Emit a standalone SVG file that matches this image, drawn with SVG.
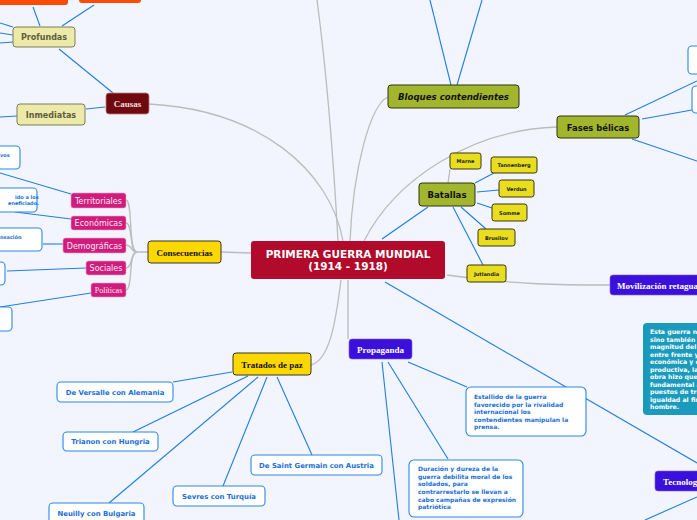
<svg xmlns="http://www.w3.org/2000/svg" width="697" height="520" viewBox="0 0 697 520">
<defs>
<style>
.g{fill:none;stroke:#bcbcbc;stroke-width:1.3}
.b{fill:none;stroke:#1f7de6;stroke-width:1.1}
.sans{font-family:"DejaVu Sans",Verdana,sans-serif}
.serif{font-family:"Liberation Serif","Times New Roman",serif;font-weight:bold}
.wb{fill:#fff;stroke:#2a88e8;stroke-width:1.1}
.wt{font-family:"DejaVu Sans",Verdana,sans-serif;font-weight:bold;fill:#1b6fd6}
.kh{fill:#ede9a9;stroke:#7e7c5c;stroke-width:1}
.kt{font-family:"DejaVu Sans",Verdana,sans-serif;font-weight:bold;font-size:8px;fill:#5e5e3e}
.ol{fill:#a2b62d;stroke:#2e3310;stroke-width:1}
.ye{fill:#e8dd1f;stroke:#3a3510;stroke-width:1}
.gold{fill:#ffd800;stroke:#333;stroke-width:1}
.pk{fill:#d01c7c;stroke:#f0a0c8;stroke-width:0.6}
.pt{font-family:"DejaVu Sans",Verdana,sans-serif;font-size:8px;fill:#fbe8f2}
.pu{fill:#3b10dc;stroke:#7a60f0;stroke-width:0.6}
.or{fill:#fc4b05}
</style>
</defs>
<rect width="697" height="520" fill="#f2f5fd"/>
<g id="connectors">
<!-- grey main-topic connectors -->
<path class="g" d="M149,104 C260,110 330,170 343,241"/>
<path class="g" d="M317,0 C325,60 333,150 338,241"/>
<path class="g" d="M388,97 C370,105 353,170 350,241"/>
<path class="g" d="M557,127 C470,130 395,180 364,241"/>
<path class="g" d="M448,183 L450,169"/>
<path class="g" d="M447,275 C520,285 560,285 610,285"/>
<path class="g" d="M221,252 L251,253"/>
<path class="g" d="M311,365 C330,360 336,320 341,280"/>
<path class="g" d="M348,280 L348,339"/>
<path class="g" d="M148,252 L137,252 C128,252 133,200 126,200"/>
<path class="g" d="M137,252 C129,252 133,223 126,223"/>
<path class="g" d="M137,252 C131,252 132,245 126,245"/>
<path class="g" d="M137,252 C130,252 133,268 126,268"/>
<path class="g" d="M137,252 C128,252 133,290 126,290"/>
<!-- blue connectors -->
<path class="b" d="M59,49 L113,93"/>
<path class="b" d="M86,109 L105,107"/>
<path class="b" d="M0,117 L17,116"/>
<path class="b" d="M0,23 L13,27"/>
<path class="b" d="M0,33 L13,35"/>
<path class="b" d="M0,43 L13,42"/>
<path class="b" d="M33,7 L40,26"/>
<path class="b" d="M94,5 L62,26"/>
<path class="b" d="M430,0 L451,85"/>
<path class="b" d="M482,0 L457,85"/>
<path class="b" d="M625,115 L697,81"/>
<path class="b" d="M642,119 L692,110"/>
<path class="b" d="M632,139 L697,161"/>
<path class="b" d="M428,207 L382,239"/>
<path class="b" d="M475,183 L494,173"/>
<path class="b" d="M477,192 L499,190"/>
<path class="b" d="M477,203 L492,208"/>
<path class="b" d="M461,207 L486,229"/>
<path class="b" d="M453,207 L483,265"/>
<path class="b" d="M385,282 L697,463"/>
<path class="b" d="M645,520 L697,497"/>
<path class="b" d="M0,173 L71,194"/>
<path class="b" d="M15,212 L71,219"/>
<path class="b" d="M43,244 L63,244"/>
<path class="b" d="M7,271 L86,268"/>
<path class="b" d="M0,307 L91,293"/>
<path class="b" d="M232,372 L173,382"/>
<path class="b" d="M248,376 L133,432"/>
<path class="b" d="M258,377 L109,503"/>
<path class="b" d="M267,377 L223,486"/>
<path class="b" d="M277,377 L312,455"/>
<path class="b" d="M408,362 L467,387"/>
<path class="b" d="M388,362 L448,459"/>
<path class="b" d="M382,362 L399,520"/>
</g>

<g id="central">
<rect x="251" y="241" width="194" height="38" rx="3" fill="#b10a2b"/>
<text class="sans" x="348" y="258" text-anchor="middle" font-size="10.5" font-weight="bold" fill="#fff">PRIMERA GUERRA MUNDIAL</text>
<text class="sans" x="348" y="270" text-anchor="middle" font-size="10.5" font-weight="bold" fill="#fff">(1914 - 1918)</text>
</g>

<g id="top-orange">
<rect class="or" x="-5" y="-20" width="73" height="25" rx="3"/>
<rect class="or" x="79" y="-20" width="62" height="23" rx="3"/>
</g>

<g id="causas">
<rect x="106" y="93" width="43" height="21" rx="3" fill="#6e0a0e" stroke="#c27a7a" stroke-width="0.8"/>
<text class="serif" x="127.5" y="107" text-anchor="middle" font-size="9" fill="#f4dede">Causas</text>
</g>
<g id="profundas">
<rect class="kh" x="13" y="27" width="62" height="20" rx="3"/>
<text class="kt" x="44" y="40" text-anchor="middle">Profundas</text>
</g>
<g id="inmediatas">
<rect class="kh" x="17" y="104" width="68" height="21" rx="3"/>
<text class="kt" x="51" y="117.5" text-anchor="middle">Inmediatas</text>
</g>

<g id="bloques">
<rect class="ol" x="388" y="85" width="131" height="23" rx="3"/>
<text class="sans" x="453.5" y="100" text-anchor="middle" font-size="8.6" font-weight="bold" font-style="italic" fill="#111">Bloques contendientes</text>
</g>
<g id="fases">
<rect class="ol" x="557" y="116" width="82" height="22" rx="3"/>
<text class="sans" x="598" y="130.5" text-anchor="middle" font-size="8.4" font-weight="bold" fill="#111">Fases bélicas</text>
</g>
<g id="fases-child-1"><rect class="wb" x="688" y="46" width="40" height="28" rx="4"/></g>
<g id="fases-child-2"><rect class="wb" x="692" y="86" width="40" height="27" rx="4"/></g>

<g id="batallas">
<rect class="ol" x="419" y="183" width="56" height="23" rx="3"/>
<text class="sans" x="447" y="197.5" text-anchor="middle" font-size="8.6" font-weight="bold" fill="#111">Batallas</text>
</g>
<g id="marne"><rect class="ye" x="450" y="153" width="31" height="16" rx="2.5"/><text class="sans" x="465.5" y="163" text-anchor="middle" font-size="5" font-weight="bold" fill="#222">Marne</text></g>
<g id="tannenberg"><rect class="ye" x="491" y="157" width="46" height="16" rx="2.5"/><text class="sans" x="514" y="167" text-anchor="middle" font-size="5" font-weight="bold" fill="#222">Tannenberg</text></g>
<g id="verdun"><rect class="ye" x="499" y="180" width="35" height="17" rx="2.5"/><text class="sans" x="516.5" y="190.5" text-anchor="middle" font-size="5" font-weight="bold" fill="#222">Verdun</text></g>
<g id="somme"><rect class="ye" x="492" y="204" width="35" height="17" rx="2.5"/><text class="sans" x="509.5" y="214.5" text-anchor="middle" font-size="5" font-weight="bold" fill="#222">Somme</text></g>
<g id="brusilov"><rect class="ye" x="478" y="229" width="37" height="17" rx="2.5"/><text class="sans" x="496.5" y="239.5" text-anchor="middle" font-size="5" font-weight="bold" fill="#222">Brusilov</text></g>
<g id="jutlandia"><rect class="ye" x="467" y="265" width="39" height="17" rx="2.5"/><text class="sans" x="486.5" y="275.5" text-anchor="middle" font-size="5" font-weight="bold" fill="#222">Jutlandia</text></g>

<g id="movilizacion">
<rect class="pu" x="610" y="275" width="120" height="20" rx="3"/>
<text class="serif" x="617" y="288.5" font-size="9" fill="#fff">Movilización retaguardia</text>
</g>
<g id="movilizacion-texto">
<rect x="643" y="323" width="80" height="92" rx="4" fill="#1a9bbd"/>
<g class="sans" font-size="6.2" font-weight="bold" fill="#fff">
<text x="650" y="334">Esta guerra no</text>
<text x="650" y="341.5">sino también e</text>
<text x="650" y="349">magnitud del e</text>
<text x="650" y="356.5">entre frente y</text>
<text x="650" y="364">económica y c</text>
<text x="650" y="371.5">productiva, la</text>
<text x="650" y="379">obra hizo que</text>
<text x="650" y="386.5">fundamental a</text>
<text x="650" y="394">puestos de tra</text>
<text x="650" y="401.5">igualdad al fin</text>
<text x="650" y="409">hombre.</text>
</g>
</g>
<g id="tecnologia">
<rect class="pu" x="655" y="471" width="60" height="20" rx="3"/>
<text class="serif" x="663" y="484.5" font-size="9" fill="#fff">Tecnología</text>
</g>

<g id="consecuencias">
<rect class="gold" x="148" y="241" width="73" height="22" rx="3"/>
<text class="serif" x="184.5" y="255.5" text-anchor="middle" font-size="9" fill="#111">Consecuencias</text>
</g>
<g id="territoriales"><rect class="pk" x="71" y="193" width="55" height="15" rx="2.5"/><text class="pt" x="98.5" y="203.5" text-anchor="middle">Territoriales</text></g>
<g id="economicas"><rect class="pk" x="71" y="216" width="55" height="14" rx="2.5"/><text class="pt" x="98.5" y="226" text-anchor="middle">Económicas</text></g>
<g id="demograficas"><rect class="pk" x="63" y="238" width="63" height="15" rx="2.5"/><text class="pt" x="94.5" y="248.5" text-anchor="middle">Demográficas</text></g>
<g id="sociales"><rect class="pk" x="86" y="261" width="40" height="14" rx="2.5"/><text class="pt" x="106" y="271" text-anchor="middle">Sociales</text></g>
<g id="politicas"><rect class="pk" x="91" y="283" width="35" height="14" rx="2.5"/><text x="108.5" y="293" text-anchor="middle" font-family="'Liberation Serif','Times New Roman',serif" font-size="8" fill="#fbe8f2">Políticas</text></g>

<g id="cons-child-1"><rect class="wb" x="-40" y="146" width="60" height="23" rx="4"/><text class="wt" x="0" y="157" font-size="5">vos</text></g>
<g id="cons-child-2"><rect class="wb" x="-40" y="188" width="77" height="24" rx="4"/><text class="wt" x="15" y="198.5" font-size="5">ido a los</text><text class="wt" x="8" y="204.5" font-size="5">eneficiado.</text></g>
<g id="cons-child-3"><rect class="wb" x="-40" y="228" width="82" height="23" rx="4"/><text class="wt" x="0" y="239" font-size="5">nsación</text></g>
<g id="cons-child-4"><rect class="wb" x="-40" y="262" width="45" height="23" rx="4"/></g>
<g id="cons-child-5"><rect class="wb" x="-40" y="307" width="52" height="24" rx="4"/></g>

<g id="tratados">
<rect class="gold" x="233" y="353" width="78" height="22" rx="3"/>
<text class="serif" x="272" y="367.5" text-anchor="middle" font-size="9" fill="#111">Tratados de paz</text>
</g>
<g id="versalle"><rect class="wb" x="57" y="382" width="116" height="20" rx="4"/><text class="wt" x="115" y="394.5" text-anchor="middle" font-size="6.9">De Versalle con Alemania</text></g>
<g id="trianon"><rect class="wb" x="63" y="432" width="95" height="19" rx="4"/><text class="wt" x="110.5" y="444" text-anchor="middle" font-size="6.9">Trianon con Hungria</text></g>
<g id="saint-germain"><rect class="wb" x="251" y="455" width="131" height="20" rx="4"/><text class="wt" x="316.5" y="467.5" text-anchor="middle" font-size="6.9">De Saint Germain con Austria</text></g>
<g id="sevres"><rect class="wb" x="173" y="486" width="92" height="20" rx="4"/><text class="wt" x="219" y="498.5" text-anchor="middle" font-size="6.9">Sevres con Turquía</text></g>
<g id="neuilly"><rect class="wb" x="49" y="503" width="95" height="24" rx="4"/><text class="wt" x="96.5" y="515.5" text-anchor="middle" font-size="6.9">Neuilly con Bulgaria</text></g>

<g id="propaganda">
<rect class="pu" x="349" y="339" width="63" height="20" rx="3"/>
<text class="serif" x="380.5" y="352.5" text-anchor="middle" font-size="9" fill="#fff">Propaganda</text>
</g>
<g id="estallido">
<rect class="wb" x="466" y="387" width="120" height="49" rx="5"/>
<g class="wt" font-size="6">
<text x="474" y="399">Estallido de la guerra</text>
<text x="474" y="406.5">favorecido por la rivalidad</text>
<text x="474" y="414">internacional los</text>
<text x="474" y="421.5">contendientes manipulan la</text>
<text x="474" y="429">prensa.</text>
</g>
</g>
<g id="duracion">
<rect class="wb" x="409" y="460" width="114" height="57" rx="5"/>
<g class="wt" font-size="6">
<text x="418" y="471">Duración y dureza de la</text>
<text x="418" y="478.5">guerra debilita moral de los</text>
<text x="418" y="486">soldados, para</text>
<text x="418" y="494">contrarrestarlo se llevan a</text>
<text x="418" y="501.5">cabo campañas de expresión</text>
<text x="418" y="509">patriótica</text>
</g>
</g>
</svg>
